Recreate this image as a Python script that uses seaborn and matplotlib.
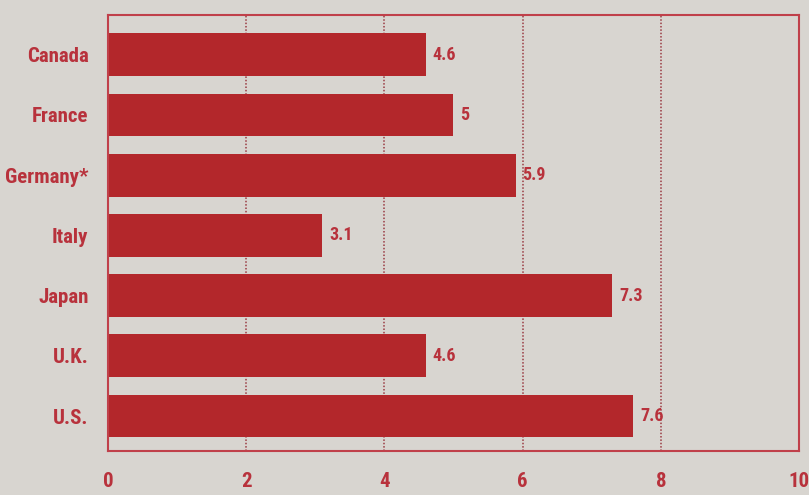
import matplotlib
matplotlib.use("Agg")
import matplotlib.pyplot as plt
import seaborn as sns
import pandas as pd

countries = ["Canada", "France", "Germany*", "Italy", "Japan", "U.K.", "U.S."]
values = [4.6, 5.0, 5.9, 3.1, 7.3, 4.6, 7.6]
value_labels = ["4.6", "5", "5.9", "3.1", "7.3", "4.6", "7.6"]
xticks = [0, 2, 4, 6, 8, 10]

BG = "#d8d5d0"
BAR = "#b3272b"
TXT = "#b8323c"
LINE = "#c0404a"

sns.set_theme(style="white")
plt.rcParams["font.family"] = ["Roboto Condensed", "DejaVu Sans"]

df = pd.DataFrame({"country": countries, "value": values})

fig = plt.figure(figsize=(8.09, 4.95), dpi=100, facecolor=BG)
ax = fig.add_axes([0.1335, 0.0889, 0.9876 - 0.1335, 0.9697 - 0.0889])
ax.set_facecolor(BG)

sns.barplot(data=df, x="value", y="country", orient="h", color=BAR,
            saturation=1, width=0.71, linewidth=0, edgecolor="none", ax=ax, zorder=2)

ax.set_xlim(0, 10)
ax.set_ylim(6.58, -0.66)

for x in xticks[1:-1]:
    ax.axvline(x, color="#9a3a42", linestyle=(0, (1, 1.2)), linewidth=1.1, zorder=1)

for i, (v, lab) in enumerate(zip(values, value_labels)):
    ax.text(v + 0.1, i, lab, va="center", ha="left", color=TXT,
            fontsize=13, fontweight="bold", zorder=3)

ax.set_xticks(xticks)
ax.set_xticklabels([str(t) for t in xticks], color=TXT, fontsize=15, fontweight="bold")
ax.tick_params(axis="x", direction="out", length=11, width=1.4, color=LINE, pad=4)
ax.tick_params(axis="y", length=0, pad=14)
for lab in ax.get_yticklabels():
    lab.set_color(TXT)
    lab.set_fontsize(15)
    lab.set_fontweight("bold")

ax.set_xlabel("")
ax.set_ylabel("")
for s in ax.spines.values():
    s.set_visible(True)
    s.set_color(LINE)
    s.set_linewidth(1.5)

fig.savefig("out.png", dpi=100, facecolor=BG)
